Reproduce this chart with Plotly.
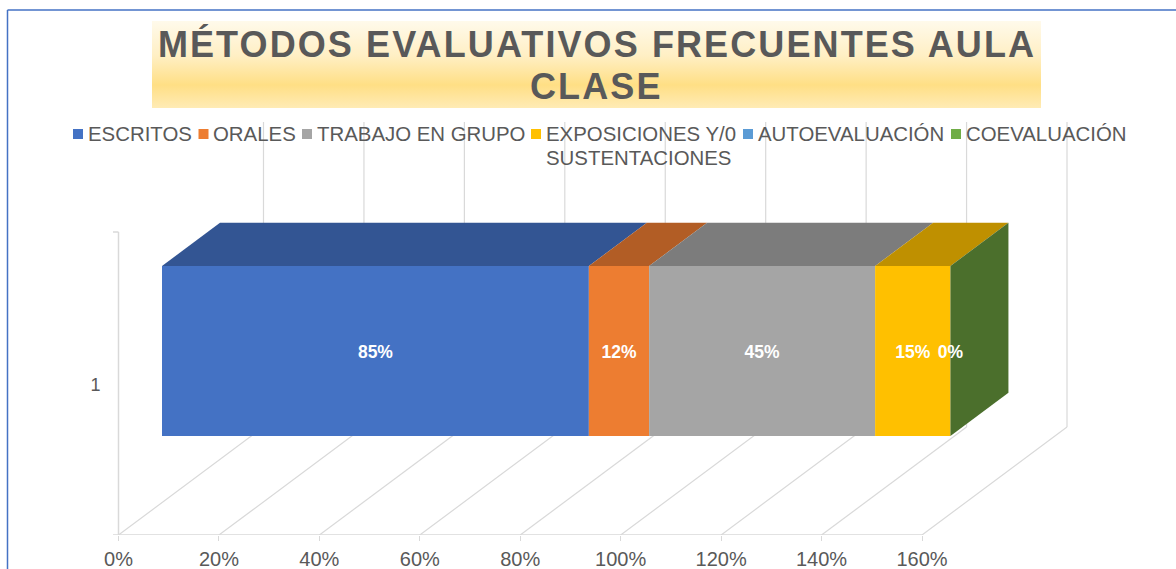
import plotly.graph_objects as go

# ---- data ----
series_names = ["ESCRITOS", "ORALES", "TRABAJO EN GRUPO", "EXPOSICIONES Y/0", "AUTOEVALUACIÓN", "COEVALUACIÓN"]
series_values = [85, 12, 45, 15, 0, 0]
label_flags = [True, True, True, True, False, True]
x_ticks = [0, 20, 40, 60, 80, 100, 120, 140, 160]
x_tick_labels = ["0%", "20%", "40%", "60%", "80%", "100%", "120%", "140%", "160%"]
category = "1"
title_line_1 = "MÉTODOS EVALUATIVOS FRECUENTES AULA"
title_line_2 = "CLASE"
legend_line_2 = "SUSTENTACIONES"

# ---- styling ----
front_colors = ["#4472C4", "#ED7D31", "#A5A5A5", "#FFC000", "#5B9BD5", "#70AD47"]
top_colors = ["#335593", "#B25D25", "#7C7C7C", "#BF9000", "#44749F", "#548235"]
side_color = "#4B6F2C"
TXT = "#595959"
GRID = "#D9D9D9"
FONT = "Liberation Sans"

W, H = 1176, 569
LEFT_PX = 106
X0_PX, FLOOR_PX = 118.5, 535
PX_PER_PCT = (922 - 118.5) / 160
XMIN = (LEFT_PX - X0_PX) / PX_PER_PCT
XMAX = (W - X0_PX) / PX_PER_PCT
DEPTH_X, DEPTH_Y = 145 / PX_PER_PCT, 108
WALL_TOP = 305
BAR_D0, BAR_D1 = 0.30, 0.70


def dx(px):
    return (px - X0_PX) / PX_PER_PCT


def dy(px):
    return FLOOR_PX - px


def paper_x(px):
    return (px - LEFT_PX) / (W - LEFT_PX)


def paper_y(px):
    return (FLOOR_PX - px) / FLOOR_PX


def proj(v, d, h):
    return v + d * DEPTH_X, h + d * DEPTH_Y


front_lo = 535 - 436 - 0.3 * DEPTH_Y
front_hi = 535 - 266 - 0.3 * DEPTH_Y

fig = go.Figure()

# title background
fig.add_trace(go.Scatter(
    x=[dx(152), dx(1041), dx(1041), dx(152), dx(152)],
    y=[dy(21), dy(21), dy(108), dy(108), dy(21)],
    mode="lines", line=dict(width=0), fill="toself", hoverinfo="skip", showlegend=False,
    fillgradient=dict(type="vertical",
                      colorscale=[[0, "#FFEBB5"], [0.265, "#FFDF85"], [0.6, "#FFEFC4"], [1, "#FFFAEB"]]),
))

# front faces as stacked bars
base = 0
x_start = BAR_D0 * DEPTH_X
cum = []
for name, val, col in zip(series_names, series_values, front_colors):
    fig.add_trace(go.Bar(
        x=[val], y=[(front_lo + front_hi) / 2 + BAR_D0 * DEPTH_Y], base=[x_start + base],
        width=[front_hi - front_lo], orientation="h",
        marker=dict(color=col, line=dict(width=0)), name=name,
        showlegend=False, hoverinfo="skip",
    ))
    cum.append(base)
    base += val
total = base

# top and side faces, derived from the series values
for start, val, col in zip(cum, series_values, top_colors):
    if val == 0:
        continue
    pts = [proj(start, BAR_D0, front_hi), proj(start + val, BAR_D0, front_hi),
           proj(start + val, BAR_D1, front_hi), proj(start, BAR_D1, front_hi),
           proj(start, BAR_D0, front_hi)]
    fig.add_trace(go.Scatter(x=[p[0] for p in pts], y=[p[1] for p in pts], mode="lines",
                             line=dict(width=0), fill="toself", fillcolor=col,
                             hoverinfo="skip", showlegend=False))
pts = [proj(total, BAR_D0, front_lo), proj(total, BAR_D1, front_lo),
       proj(total, BAR_D1, front_hi), proj(total, BAR_D0, front_hi), proj(total, BAR_D0, front_lo)]
fig.add_trace(go.Scatter(x=[p[0] for p in pts], y=[p[1] for p in pts], mode="lines",
                         line=dict(width=0), fill="toself", fillcolor=side_color,
                         hoverinfo="skip", showlegend=False))

# data labels
lx, lt = [], []
for start, val, show in zip(cum, series_values, label_flags):
    if show:
        lx.append(x_start + start + val / 2)
        lt.append(f"{val}%")
fig.add_trace(go.Scatter(
    x=lx, y=[dy(354)] * len(lx), mode="text", text=lt, textposition="middle center",
    textfont=dict(family=FONT, size=17.5, color="white", weight="bold"),
    hoverinfo="skip", showlegend=False,
))

# legend layout
legend_square_px = [78, 203.5, 307, 536, 748, 956]
legend_text_px = [88, 213, 317, 546, 758, 966]

shapes = []
line = dict(color=GRID, width=1.2)
for t in x_ticks:
    fx, fy = proj(t, 0, 0)
    bx, by = proj(t, 1, 0)
    shapes.append(dict(type="line", xref="x", yref="y", x0=fx, y0=fy, x1=bx, y1=by, line=line, layer="below"))
    shapes.append(dict(type="line", xref="x", yref="y", x0=bx, y0=by, x1=bx, y1=by + WALL_TOP, line=line, layer="below"))
axis_line = dict(color=GRID, width=1.5)
shapes += [
    dict(type="line", xref="x", yref="y", x0=dx(113), y0=0, x1=x_ticks[-1], y1=0, line=axis_line, layer="below"),
    dict(type="line", xref="x", yref="y", x0=0, y0=0, x1=0, y1=dy(232), line=axis_line, layer="below"),
    dict(type="line", xref="x", yref="y", x0=dx(113), y0=dy(232), x1=0, y1=dy(232), line=axis_line, layer="below"),
]
for px, col in zip(legend_square_px, front_colors):
    shapes.append(dict(type="rect", xref="paper", yref="paper", x0=paper_x(px - 5), x1=paper_x(px + 5),
                       y0=paper_y(139), y1=paper_y(129), fillcolor=col, line=dict(width=0)))
# chart frame (top and left)
frame = dict(color="#4472C4", width=1.5)
shapes += [
    dict(type="line", xref="paper", yref="paper", x0=paper_x(7.5), x1=paper_x(7.5), y0=paper_y(10), y1=paper_y(569), line=frame),
    dict(type="line", xref="paper", yref="paper", x0=paper_x(7.5), x1=paper_x(1176), y0=paper_y(10), y1=paper_y(10), line=frame),
]

annotations = []
LEG_FONT = dict(family=FONT, size=20.4, color=TXT)
for name, px in zip(series_names, legend_text_px):
    annotations.append(dict(
        xref="paper", yref="paper", x=paper_x(px - 2.5), y=paper_y(121), xanchor="left", yanchor="top",
        text=name, showarrow=False, align="left", font=LEG_FONT,
    ))
annotations.append(dict(
    xref="paper", yref="paper", x=paper_x(legend_text_px[3] - 2.5), y=paper_y(145), xanchor="left", yanchor="top",
    text=legend_line_2, showarrow=False, align="left", font=LEG_FONT,
))
spaced = '<span style="letter-spacing:2.1px">%s</span>'
annotations.append(dict(
    xref="paper", yref="paper", x=paper_x(596.5), y=paper_y(86), xanchor="center", yanchor="middle",
    text=spaced % title_line_2, showarrow=False,
    font=dict(family=FONT, size=36, color=TXT, weight="bold"),
))

fig.update_layout(
    width=W, height=H, autosize=False,
    margin=dict(l=LEFT_PX, r=0, t=0, b=H - FLOOR_PX, pad=0, autoexpand=False),
    paper_bgcolor="white", plot_bgcolor="white",
    barmode="overlay", showlegend=False, hovermode=False,
    title=dict(text=spaced % title_line_1, x=597 / W, xanchor="center", xref="container",
               y=1 - 44 / H, yanchor="middle", yref="container", pad=dict(t=0, b=0, l=0, r=0),
               font=dict(family=FONT, size=36, color=TXT, weight="bold")),
    xaxis=dict(range=[XMIN, XMAX], tickmode="array", tickvals=x_ticks, ticktext=x_tick_labels,
               showgrid=False, zeroline=False, showline=False, ticks="outside", ticklen=5,
               ticklabelstandoff=1, tickwidth=1, tickcolor=GRID,
               tickfont=dict(family=FONT, size=20, color=TXT)),
    yaxis=dict(range=[0, FLOOR_PX], tickmode="array", tickvals=[dy(385)], ticktext=[category],
               showgrid=False, zeroline=False, showline=False, ticks="outside", ticklen=1,
               tickcolor="rgba(0,0,0,0)", tickfont=dict(family=FONT, size=18, color=TXT)),
    shapes=shapes, annotations=annotations,
)

fig.write_html("out.html", config=dict(displayModeBar=False),
               post_script="document.body.style.margin='0';document.body.style.overflow='hidden';")
